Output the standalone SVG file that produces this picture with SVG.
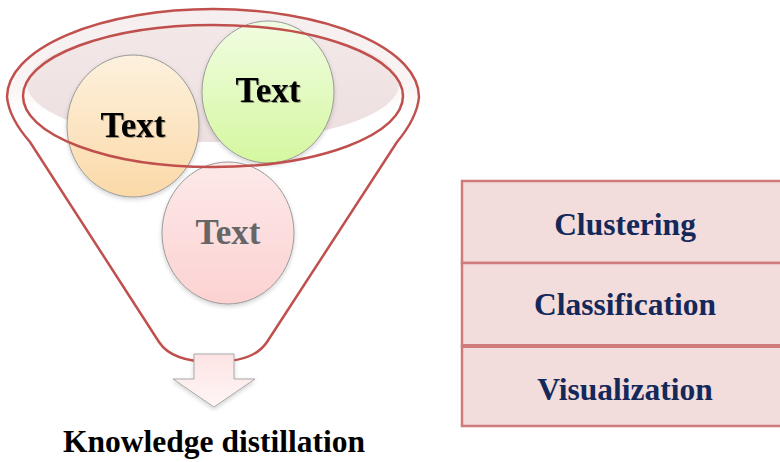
<svg xmlns="http://www.w3.org/2000/svg" width="780" height="462" viewBox="0 0 780 462">
  <defs>
    <linearGradient id="gOrange" x1="0" y1="0" x2="0" y2="1">
      <stop offset="0" stop-color="#fdf1de"/>
      <stop offset="1" stop-color="#fbd9a8"/>
    </linearGradient>
    <linearGradient id="gGreen" x1="0" y1="0" x2="0" y2="1">
      <stop offset="0" stop-color="#f1fde2"/>
      <stop offset="1" stop-color="#d5f7a0"/>
    </linearGradient>
    <linearGradient id="gPink" x1="0" y1="0" x2="0" y2="1">
      <stop offset="0" stop-color="#fde9e9"/>
      <stop offset="1" stop-color="#fcd2d2"/>
    </linearGradient>
    <linearGradient id="gRim" x1="0" y1="0" x2="0" y2="1">
      <stop offset="0" stop-color="#f6eeee"/>
      <stop offset="0.45" stop-color="#faf5f5"/>
      <stop offset="0.6" stop-color="#ffffff"/>
    </linearGradient>
    <linearGradient id="gMouth" x1="0" y1="0" x2="0" y2="1">
      <stop offset="0" stop-color="#f3e8e8"/>
      <stop offset="1" stop-color="#eddfdf"/>
    </linearGradient>
    <linearGradient id="gArrow" x1="0" y1="0" x2="0" y2="1">
      <stop offset="0" stop-color="#fde3e3"/>
      <stop offset="1" stop-color="#fff6f6"/>
    </linearGradient>
    <filter id="soft" x="-20%" y="-20%" width="140%" height="150%">
      <feDropShadow dx="0" dy="2" stdDeviation="2" flood-color="#000" flood-opacity="0.18"/>
    </filter>
    <filter id="txtShadow" x="-10%" y="-10%" width="130%" height="140%">
      <feDropShadow dx="1" dy="1" stdDeviation="0.6" flood-color="#000" flood-opacity="0.35"/>
    </filter>
  </defs>
  <style>
    .rim { fill: none; stroke: #c0504d; stroke-width: 2.5; }
    .ball { stroke: #9a9a9a; stroke-width: 1; filter: url(#soft); }
    .ballText { font-family: "Liberation Serif", "Times New Roman", serif; font-weight: bold; font-size: 35px; text-anchor: middle; }
    .cell { fill: #f2dcdc; stroke: #cf7b7b; stroke-width: 2.5; }
    .cellText { font-family: "Liberation Serif", "Times New Roman", serif; font-weight: bold; font-size: 31.5px; fill: #14295a; text-anchor: middle; }
    .caption { font-family: "Liberation Serif", "Times New Roman", serif; font-weight: bold; font-size: 31.5px; fill: #000; text-anchor: middle; }
  </style>

  <!-- funnel body and mouth -->
  <g id="funnel">
    <path d="M 7 97 A 206 88 0 0 1 419 97 Q 417 118 397 142 L 267 342 Q 254 362 213 362 Q 172 362 159 342 L 30 142 Q 9 118 7 97 Z" fill="#ffffff"/>
    <ellipse cx="213" cy="97" rx="205" ry="87" fill="url(#gRim)"/>
    <ellipse cx="213" cy="84" rx="186" ry="58" fill="url(#gMouth)"/>
    <path class="rim" d="M 7 97 A 206 88 0 0 1 419 97 Q 417 118 397 142 L 267 342 Q 254 362 213 362 Q 172 362 159 342 L 30 142 Q 9 118 7 97 Z"/>
  </g>

  <!-- items dropped into the funnel -->
  <g id="node-orange">
    <ellipse class="ball" cx="133" cy="126" rx="66" ry="71" fill="url(#gOrange)"/>
    <text class="ballText" x="133" y="137" fill="#000" filter="url(#txtShadow)">Text</text>
  </g>
  <g id="node-green">
    <ellipse class="ball" cx="268" cy="92" rx="66" ry="71" fill="url(#gGreen)"/>
    <text class="ballText" x="268" y="102" fill="#000" filter="url(#txtShadow)">Text</text>
  </g>
  <g id="node-pink">
    <ellipse class="ball" cx="228" cy="233" rx="66" ry="71" fill="url(#gPink)"/>
    <text class="ballText" x="228" y="244" fill="#666666">Text</text>
  </g>

  <!-- inner rim drawn over the items -->
  <g id="funnel-rim">
    <ellipse class="rim" cx="213" cy="96" rx="190" ry="71"/>
  </g>

  <!-- output arrow -->
  <g id="connectors">
    <path d="M 194 354 L 234 354 L 234 379 L 255 379 L 214 407 L 173 379 L 194 379 Z" fill="url(#gArrow)" stroke="#a8a8a8" stroke-width="1" filter="url(#soft)"/>
  </g>

  <g id="node-caption">
    <text class="caption" x="214" y="452">Knowledge distillation</text>
  </g>

  <!-- task list -->
  <g id="node-clustering">
    <rect class="cell" x="462" y="181" width="330" height="82"/>
    <text class="cellText" x="625" y="235">Clustering</text>
  </g>
  <g id="node-classification">
    <rect class="cell" x="462" y="263" width="330" height="83"/>
    <text class="cellText" x="625" y="315">Classification</text>
  </g>
  <g id="node-visualization">
    <rect class="cell" x="462" y="346" width="330" height="80"/>
    <line x1="462" y1="346" x2="780" y2="346" stroke="#cf7b7b" stroke-width="4"/>
    <text class="cellText" x="625" y="400">Visualization</text>
  </g>
</svg>
